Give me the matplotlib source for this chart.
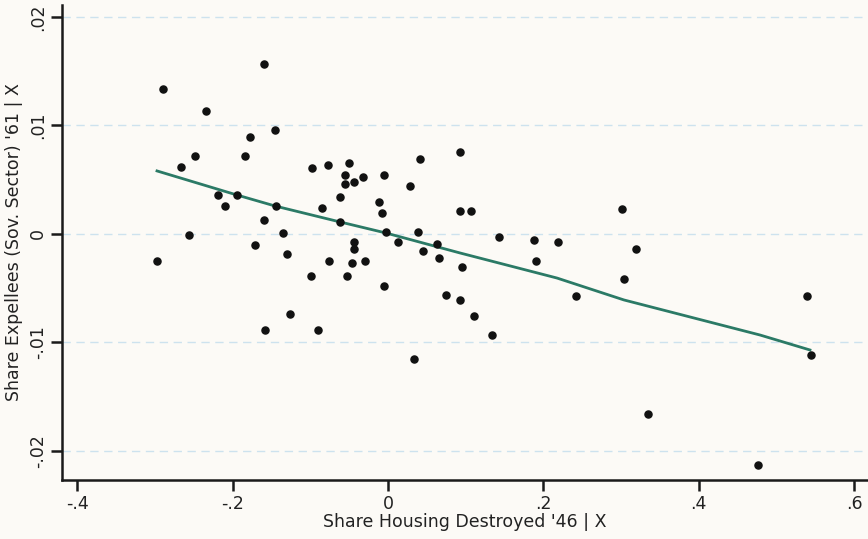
import numpy as np
import matplotlib.pyplot as plt

# Partial regression: expellee share vs. housing destroyed (residuals | X)
housing_x = [
    -0.2896, -0.2342, -0.1596, -0.1454, -0.1776, -0.1840, -0.2484, -0.2664,
    -0.2188, -0.1943, -0.2098, -0.1441, -0.1596, -0.2561, -0.1351, -0.1712,
    -0.1300, -0.2973, -0.1583, -0.1261, -0.0978, -0.0772, -0.0502, -0.0553,
    -0.0553, -0.0438, -0.0322, -0.0051, -0.0618, -0.0849, -0.0116, -0.0077,
    0.0412, 0.0927, 0.0283, 0.0927, 0.1068, -0.0618, -0.0026, 0.0386,
    0.0631, 0.0129, -0.0438, -0.0438, 0.1429, 0.1879, 0.2188, -0.0759,
    -0.0463, -0.0296, 0.0450, 0.0656, 0.0952, 0.1905, -0.0991, -0.0528,
    0.3012, 0.3192, 0.3037, -0.0901, -0.0051, 0.0746, 0.0927, 0.1107,
    0.1338, 0.0335, 0.2420, 0.5393, 0.5444, 0.3346, 0.4762,
]
expellees_y = [
    0.01336, 0.01134, 0.01567, 0.00959, 0.00894, 0.00719, 0.00719, 0.00618,
    0.00359, 0.00359, 0.00258, 0.00258, 0.00129, -0.00009, 0.00009, -0.00101,
    -0.00184, -0.00249, -0.00885, -0.00737, 0.00608, 0.00636, 0.00654, 0.00544,
    0.00461, 0.00479, 0.00525, 0.00544, 0.00341, 0.00240, 0.00295, 0.00194,
    0.00691, 0.00756, 0.00442, 0.00212, 0.00212, 0.00111, 0.00018, 0.00018,
    -0.00092, -0.00074, -0.00074, -0.00138, -0.00028, -0.00055, -0.00074, -0.00249,
    -0.00267, -0.00249, -0.00157, -0.00221, -0.00304, -0.00249, -0.00387, -0.00387,
    0.00230, -0.00138, -0.00415, -0.00885, -0.00479, -0.00562, -0.00608, -0.00756,
    -0.00931, -0.01152, -0.00571, -0.00571, -0.01115, -0.01659, -0.02129,
]

# smoothed fit line
fit_x = [-0.2973, -0.1943, -0.1454, -0.0618, -0.0026, 0.0927, 0.2175, 0.3037, 0.4788, 0.5431]
fit_y = [0.00581, 0.00359, 0.00258, 0.00111, 0.00009, -0.00175, -0.00406, -0.00608, -0.00931, -0.01069]

x_ticks = [-0.4, -0.2, 0, 0.2, 0.4, 0.6]
x_labels = ['-.4', '-.2', '0', '.2', '.4', '.6']
y_ticks = [-0.02, -0.01, 0, 0.01, 0.02]
y_labels = ['-.02', '-.01', '0', '.01', '.02']

bg = '#fcfaf6'
fig = plt.figure(figsize=(8.68, 5.39), dpi=100, facecolor=bg)
ax = fig.add_axes([0.0714, 0.1095, 0.9286, 0.8812], facecolor=bg)

for yv in y_ticks:
    ax.axhline(yv, color='#cde2ee', lw=1.0, ls=(0, (6, 4)), zorder=0)

ax.plot(fit_x, fit_y, color='#2b7a66', lw=2.0, zorder=2)
ax.scatter(housing_x, expellees_y, s=26, color='#111111', zorder=3)

ax.set_xlim(-0.4196, 0.6178)
ax.set_ylim(-0.02267, 0.0211)

ax.set_xticks(x_ticks)
ax.set_xticklabels(x_labels)
ax.set_yticks(y_ticks)
ax.set_yticklabels(y_labels, rotation=90, va='center')

for s in ['top', 'right']:
    ax.spines[s].set_visible(False)
for s in ['left', 'bottom']:
    ax.spines[s].set_linewidth(1.8)
    ax.spines[s].set_color('#1a1a1a')

ax.tick_params(axis='both', length=8, width=1.8, color='#1a1a1a',
               labelsize=12.5, labelcolor='#222222', pad=3)

ax.set_xlabel("Share Housing Destroyed '46 | X", fontsize=12.5, color='#222222', labelpad=0)
ax.set_ylabel("Share Expellees (Sov. Sector) '61 | X", fontsize=12.5, color='#222222', labelpad=4)

fig.savefig('out.png', dpi=100, facecolor=bg)
